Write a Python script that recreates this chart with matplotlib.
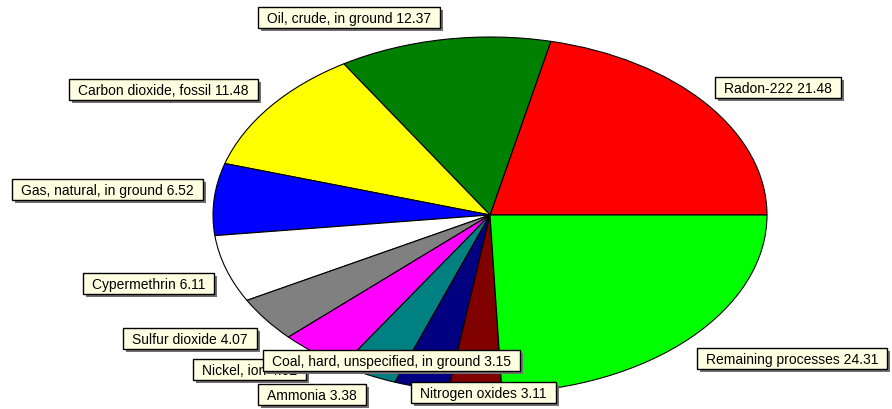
import matplotlib
matplotlib.use("Agg")
import matplotlib.pyplot as plt
from matplotlib.patches import Rectangle
from matplotlib.transforms import IdentityTransform

# Data (counter-clockwise from 3 o'clock)
names = ["Radon-222", "Oil, crude, in ground", "Carbon dioxide, fossil",
         "Gas, natural, in ground", "Cypermethrin", "Sulfur dioxide",
         "Nickel, ion", "Ammonia", "Coal, hard, unspecified, in ground",
         "Nitrogen oxides", "Remaining processes"]
values = [21.48, 12.37, 11.48, 6.52, 6.11, 4.07, 4.02, 3.38, 3.15, 3.11, 24.31]
colors = ["#FF0000", "#008000", "#FFFF00", "#0000FF", "#FFFFFF", "#808080",
          "#FF00FF", "#008080", "#000080", "#800000", "#00FF00"]

# label box layout: (left px, centre y px from top), drawing order
label_pos = {
    "Radon-222": (715, 88.5),
    "Oil, crude, in ground": (258, 18),
    "Carbon dioxide, fossil": (69, 90.5),
    "Gas, natural, in ground": (12, 190),
    "Cypermethrin": (83, 284.5),
    "Sulfur dioxide": (123, 339.5),
    "Nickel, ion": (193, 370),
    "Ammonia": (258, 395),
    "Coal, hard, unspecified, in ground": (263, 361),
    "Nitrogen oxides": (411, 393),
    "Remaining processes": (697, 359.5),
}
draw_order = ["Radon-222", "Oil, crude, in ground", "Carbon dioxide, fossil",
              "Gas, natural, in ground", "Cypermethrin", "Sulfur dioxide",
              "Nickel, ion", "Coal, hard, unspecified, in ground", "Ammonia",
              "Nitrogen oxides", "Remaining processes"]

W, H = 892, 410
fig = plt.figure(figsize=(W / 100, H / 100), dpi=100)
fig.patch.set_facecolor("white")
ax = fig.add_axes([0, 0, 1, 1])

cx, cy, rx, ry = 490, 216, 277, 178
ax.pie(values, colors=colors, startangle=0, counterclock=True,
       wedgeprops=dict(edgecolor="black", linewidth=0.8))
ax.set_aspect("auto")
ax.set_xlim(-cx / rx, (W - cx) / rx)
ax.set_ylim(-(H - cy) / ry, cy / ry)
ax.axis("off")

fig.canvas.draw()
renderer = fig.canvas.get_renderer()
ident = IdentityTransform()
padx, boxh, shadow = 9, 21, 3
val_map = dict(zip(names, values))
z = 10
for nm in draw_order:
    left, ycen = label_pos[nm]
    s = f"{nm} {val_map[nm]:.2f}"
    ybase = H - (ycen + 5)
    t = fig.text(left + padx, ybase, s, transform=ident, ha="left", va="baseline",
                 fontsize=10, family=["Liberation Sans", "DejaVu Sans"], color="black",
                 zorder=z + 2)
    ext = t.get_window_extent(renderer)
    bw = ext.width + 2 * padx
    ybot = H - (ycen + boxh / 2)
    sh = Rectangle((left + shadow, ybot - shadow), bw, boxh, transform=ident,
                   facecolor="#707070", edgecolor="none", zorder=z)
    bx = Rectangle((left, ybot), bw, boxh, transform=ident,
                   facecolor="#FFFFE1", edgecolor="black", linewidth=1.0, zorder=z + 1)
    fig.add_artist(sh)
    fig.add_artist(bx)
    z += 3

fig.savefig("out.png", dpi=100)
